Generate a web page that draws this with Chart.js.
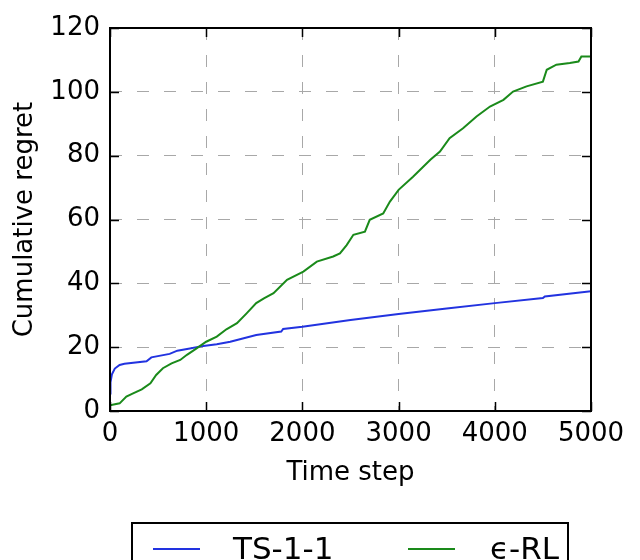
<!DOCTYPE html>
<html>
<head>
<meta charset="utf-8">
<script src="https://cdn.jsdelivr.net/npm/chart.js@4.4.1/dist/chart.umd.min.js"></script>
<style>
  html, body { margin: 0; padding: 0; background: #fff; overflow: hidden; }
</style>
</head>
<body>
<canvas id="chart" width="640" height="560"></canvas>
<script>
// TS-1-1 cumulative regret
const tsSteps = [0, 5, 20, 50, 100, 150, 380, 430, 620, 700, 830, 970, 1110, 1250, 1390, 1520, 1780, 1800, 2000, 2500, 3000, 3500, 4000, 4500, 4520, 5000];
const tsRegret = [5.5, 9, 11.5, 13.3, 14.4, 14.8, 15.6, 16.8, 17.9, 18.9, 19.6, 20.4, 20.9, 21.7, 22.8, 23.8, 24.9, 25.7, 26.4, 28.5, 30.4, 32.1, 33.8, 35.4, 35.9, 37.5];

// eps-RL cumulative regret
const rlSteps = [0, 100, 170, 240, 330, 420, 480, 550, 640, 730, 800, 900, 1000, 1110, 1210, 1320, 1420, 1520, 1600, 1700, 1840, 2010, 2150, 2320, 2390, 2460, 2530, 2650, 2700, 2840, 2910, 3000, 3150, 3330, 3430, 3530, 3670, 3810, 3950, 4090, 4190, 4330, 4500, 4540, 4640, 4780, 4870, 4900, 5000];
const rlRegret = [1.8, 2.4, 4.5, 5.5, 6.8, 8.7, 11.3, 13.4, 14.9, 16, 17.6, 19.6, 21.7, 23.3, 25.6, 27.5, 30.6, 33.8, 35.3, 36.9, 41.1, 43.7, 46.8, 48.4, 49.4, 52, 55.2, 56.2, 59.9, 61.9, 65.6, 69.3, 73.4, 78.7, 81.3, 85.5, 88.6, 92.3, 95.4, 97.5, 100.1, 101.7, 103.2, 106.9, 108.5, 109, 109.5, 111.1, 111.1];

const seriesLabels = ['TS-1-1', '\u03f5-RL'];
const seriesColors = ['#2233e0', '#1a8a1a'];

const FONT = 'DejaVu Sans';

function toPoints(xs, ys) {
    return xs.map((x, i) => ({ x: x, y: ys[i] }));
}

// frame + inward tick marks (matplotlib classic look)
const framePlugin = {
    id: 'frame',
    afterDatasetsDraw(chart) {
        const { ctx, chartArea: a } = chart;
        const len = 9;
        ctx.save();
        ctx.strokeStyle = '#000';
        ctx.lineWidth = 1.5;
        chart.scales.x.ticks.forEach(t => {
            const px = Math.round(chart.scales.x.getPixelForValue(t.value)) + 0.5;
            ctx.beginPath();
            ctx.moveTo(px, a.bottom); ctx.lineTo(px, a.bottom - len);
            ctx.moveTo(px, a.top); ctx.lineTo(px, a.top + len);
            ctx.stroke();
        });
        chart.scales.y.ticks.forEach(t => {
            const py = Math.round(chart.scales.y.getPixelForValue(t.value)) + 0.5;
            ctx.beginPath();
            ctx.moveTo(a.left, py); ctx.lineTo(a.left + len, py);
            ctx.moveTo(a.right, py); ctx.lineTo(a.right - len, py);
            ctx.stroke();
        });
        ctx.lineWidth = 2;
        ctx.strokeRect(a.left, a.top, a.right - a.left, a.bottom - a.top);
        ctx.restore();
    }
};

// boxed legend below the axis title
const boxLegend = {
    id: 'boxLegend',
    afterDraw(chart) {
        const ctx = chart.ctx;
        const ds = chart.data.datasets;
        const samples = [153, 408];
        const texts = [233, 490];
        const y = 549;
        ctx.save();
        ctx.fillStyle = '#fff';
        ctx.fillRect(132, 523, 436, 60);
        ctx.strokeStyle = '#000';
        ctx.lineWidth = 2;
        ctx.strokeRect(132, 523, 436, 60);
        ctx.font = '31px "' + FONT + '"';
        ctx.textBaseline = 'middle';
        ds.forEach((d, i) => {
            ctx.strokeStyle = d.borderColor;
            ctx.lineWidth = 2;
            ctx.beginPath();
            ctx.moveTo(samples[i], y);
            ctx.lineTo(samples[i] + 47, y);
            ctx.stroke();
            ctx.fillStyle = '#000';
            ctx.fillText(d.label, texts[i], y + 2);
        });
        ctx.restore();
    }
};

const gridOpts = {
    color: '#a8a8a8',
    lineWidth: 1,
    drawTicks: false,
};

new Chart(document.getElementById('chart'), {
    type: 'line',
    data: {
        datasets: [
            {
                label: seriesLabels[0],
                data: toPoints(tsSteps, tsRegret),
                borderColor: seriesColors[0],
                borderWidth: 2,
                pointRadius: 0,
                tension: 0,
                order: 2,
            },
            {
                label: seriesLabels[1],
                data: toPoints(rlSteps, rlRegret),
                borderColor: seriesColors[1],
                borderWidth: 2,
                pointRadius: 0,
                tension: 0,
                order: 1,
            },
        ],
    },
    options: {
        responsive: false,
        animation: false,
        events: [],
        layout: {
            padding: { left: 0, top: 28, right: 49, bottom: 71 },
        },
        plugins: {
            legend: { display: false },
            tooltip: { enabled: false },
        },
        scales: {
            x: {
                type: 'linear',
                min: 0,
                max: 5000,
                border: { display: false, dash: [12, 15] },
                grid: gridOpts,
                ticks: {
                    stepSize: 1000,
                    padding: 8,
                    color: '#000',
                    font: { family: FONT, size: 26 },
                    maxRotation: 0,
                    callback: v => String(v),
                },
                title: {
                    display: true,
                    text: 'Time step',
                    color: '#000',
                    font: { family: FONT, size: 26 },
                    padding: { top: 0, bottom: 0 },
                },
                afterFit: s => { s.height = 78; },
            },
            y: {
                min: 0,
                max: 120,
                border: { display: false, dash: [12, 15] },
                grid: gridOpts,
                ticks: {
                    stepSize: 20,
                    padding: 10,
                    color: '#000',
                    font: { family: FONT, size: 26 },
                    callback: v => String(v),
                },
                title: {
                    display: true,
                    text: 'Cumulative regret',
                    color: '#000',
                    font: { family: FONT, size: 26 },
                    padding: { top: 10, bottom: 0 },
                },
                afterFit: s => { s.width = 110; },
            },
        },
    },
    plugins: [framePlugin, boxLegend],
});
</script>
</body>
</html>
